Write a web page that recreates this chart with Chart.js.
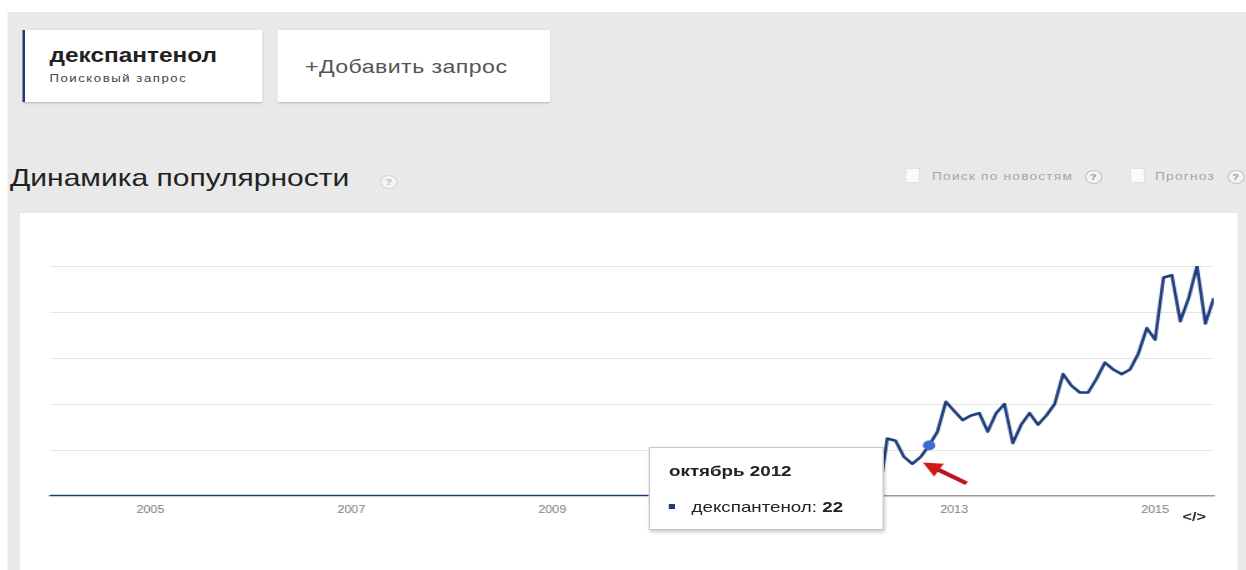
<!DOCTYPE html>
<html lang="ru">
<head>
<meta charset="utf-8">
<script src="https://cdn.jsdelivr.net/npm/chart.js@4.4.1/dist/chart.umd.min.js"></script>
<style>
html, body { margin: 0; padding: 0; background: #fff; overflow: hidden; }
body { width: 1246px; height: 570px; font-family: "Liberation Sans", Arial, sans-serif; }
/* the reference screenshot is stretched sideways, so the page is laid out narrow and widened */
#page { position: absolute; left: 0; top: 0; width: 997px; height: 570px; transform: scaleX(1.25); transform-origin: 0 0; }
#bg { position: absolute; left: 6.4px; top: 12px; right: 0; bottom: 0; background: #e9e9e9; }
.tab { position: absolute; top: 30px; height: 72px; background: #fff; box-shadow: 0 1px 2px rgba(0,0,0,.25); }
#tab1 { left: 17.6px; width: 192px; border-left: 2.4px solid #1d3a6c; box-sizing: border-box; }
#tab2 { left: 221.6px; width: 218.4px; }
.abs { position: absolute; white-space: nowrap; }
.help { position: absolute; width: 12px; height: 12px; border: 1px solid #c4c4c4; border-radius: 50%; background: #f4f4f4;
        font: bold 9px/12px "Liberation Sans", Arial, sans-serif; color: #999; text-align: center; }
.cb { position: absolute; top: 168px; width: 12px; height: 15px; background: #fbfbfb; box-sizing: border-box; border: 1px solid #e2e2e2; }
.opt { position: absolute; top: 169px; font: 11px/14px "Liberation Sans", Arial, sans-serif; color: #a6a6a6; letter-spacing: 0.95px; white-space: nowrap; }
#panel { position: absolute; left: 16px; top: 213px; width: 974px; height: 357px; background: #fff; }
#chart { position: absolute; left: 0; top: 0; }
#tip { position: absolute; display: none; width: 188px; height: 83px; box-sizing: border-box; background: #fff;
       border: 1px solid #c6c6c6; box-shadow: 1px 2px 3px rgba(0,0,0,.22); }
#tipTitle { position: absolute; left: 15px; top: 14px; font: bold 15px/18px "Liberation Sans", Arial, sans-serif; color: #222; white-space: nowrap; }
#tipRow { position: absolute; left: 15px; top: 50px; font: 15px/18px "Liberation Sans", Arial, sans-serif; color: #222; white-space: nowrap; }
#tipSwatch { display: inline-block; width: 5px; height: 5px; margin-right: 13px; vertical-align: 3px; }
</style>
</head>
<body>
<div id="page">
  <div id="bg"></div>

  <div class="tab" id="tab1">
    <div class="abs" style="left:20px; top:14px; font:bold 19.5px/22px 'Liberation Sans', Arial, sans-serif; color:#222;">декспантенол</div>
    <div class="abs" style="left:20px; top:42px; font:10.5px/13px 'Liberation Sans', Arial, sans-serif; color:#444; letter-spacing:1.25px;">Поисковый запрос</div>
  </div>
  <div class="tab" id="tab2">
    <div class="abs" style="left:22.4px; top:26px; font:18.5px/22px 'Liberation Sans', Arial, sans-serif; color:#555; letter-spacing:0.35px;">+Добавить запрос</div>
  </div>

  <div class="abs" style="left:8px; top:164px; font:24px/28px 'Liberation Sans', Arial, sans-serif; color:#222;">Динамика популярности</div>
  <div class="help" style="left:304px; top:175px; color:#bbb; border-color:#d6d6d6;">?</div>

  <div class="cb" style="left:724px;"></div>
  <div class="opt" style="left:745.6px;">Поиск по новостям</div>
  <div class="help" style="left:867.5px; top:169.5px;">?</div>
  <div class="cb" style="left:904px;"></div>
  <div class="opt" style="left:924px;">Прогноз</div>
  <div class="help" style="left:981.5px; top:169.5px;">?</div>

  <div id="panel">
    <canvas id="chart" width="974" height="357"></canvas>
    <div id="tip">
      <div id="tipTitle"></div>
      <div id="tipRow"><span id="tipSwatch"></span><span id="tipName"></span>: <b id="tipValue"></b></div>
    </div>
    <div class="abs" style="left:930px; top:296px; font:bold 13px/16px 'Liberation Sans', Arial, sans-serif; color:#333;">&lt;/&gt;</div>
  </div>
</div>

<script>
// ---------- data ----------
const seriesName = "декспантенол";
const periods = [
  "2004-01", "2012-04",
  "2012-05", "2012-06", "2012-07", "2012-08", "2012-09", "2012-10", "2012-11", "2012-12",
  "2013-01", "2013-02", "2013-03", "2013-04", "2013-05", "2013-06",
  "2013-07", "2013-08", "2013-09", "2013-10", "2013-11", "2013-12",
  "2014-01", "2014-02", "2014-03", "2014-04", "2014-05", "2014-06",
  "2014-07", "2014-08", "2014-09", "2014-10", "2014-11", "2014-12",
  "2015-01", "2015-02", "2015-03", "2015-04", "2015-05", "2015-06", "2015-07", "2015-08"
];
const values = [
  0, 0,
  25, 24, 17, 14, 17, 22, 28, 41,
  37, 33, 35, 36, 28, 36,
  40, 23, 31, 36, 31, 35,
  40, 53, 48, 45, 45, 51,
  58, 55, 53, 55, 62, 73,
  68, 95, 96, 76, 86, 100, 75, 86
];
const tickYears = [2005, 2007, 2009, 2011, 2013, 2015];
const monthNames = ["январь", "февраль", "март", "апрель", "май", "июнь",
                    "июль", "август", "сентябрь", "октябрь", "ноябрь", "декабрь"];
const markedPeriod = "2012-10";

const firstYear = 2004;
const lineColor = "#1e3d7d";
const dotColor = "#3a6bcc";

function monthIndex(p) {
  const parts = p.split("-");
  return (parseInt(parts[0]) - firstYear) * 12 + parseInt(parts[1]) - 1;
}

const points = periods.map(function(p, i) { return { x: monthIndex(p), y: values[i] }; });
const markIndex = periods.indexOf(markedPeriod);

// ---------- red arrow pointing at the marked month ----------
const arrowPlugin = {
  id: "arrow",
  afterDatasetsDraw(chart) {
    const pt = chart.getDatasetMeta(0).data[markIndex];
    const ctx = chart.ctx;
    const tipX = pt.x - 5, tipY = pt.y + 17;
    const tailX = pt.x + 30, tailY = pt.y + 38;
    const ang = Math.atan2(tipY - tailY, tipX - tailX);
    const headLen = 15, headW = 7.5;
    const bx = tipX - Math.cos(ang) * headLen, by = tipY - Math.sin(ang) * headLen;
    ctx.save();
    ctx.strokeStyle = "#b8161c";
    ctx.lineWidth = 4;
    ctx.lineCap = "butt";
    ctx.beginPath();
    ctx.moveTo(tailX, tailY);
    ctx.lineTo(bx + Math.cos(ang) * 2, by + Math.sin(ang) * 2);
    ctx.stroke();
    ctx.fillStyle = "#d01a1a";
    ctx.beginPath();
    ctx.moveTo(tipX, tipY);
    ctx.lineTo(bx - Math.sin(ang) * headW, by + Math.cos(ang) * headW);
    ctx.lineTo(bx + Math.sin(ang) * headW, by - Math.cos(ang) * headW);
    ctx.closePath();
    ctx.fill();
    ctx.restore();
  }
};

// ---------- html tooltip ----------
function externalTooltip(context) {
  const tip = context.tooltip;
  const box = document.getElementById("tip");
  if (tip.opacity === 0 || !tip.dataPoints || !tip.dataPoints.length) {
    box.style.display = "none";
    return;
  }
  const dp = tip.dataPoints[0];
  const parts = periods[dp.dataIndex].split("-");
  document.getElementById("tipTitle").textContent = monthNames[parseInt(parts[1]) - 1] + " " + parts[0];
  document.getElementById("tipName").textContent = seriesName;
  document.getElementById("tipValue").textContent = values[dp.dataIndex];
  document.getElementById("tipSwatch").style.background = lineColor;
  box.style.display = "block";
  box.style.left = (tip.caretX - 36 - 188) + "px";
  box.style.top = (tip.caretY + 2) + "px";
}

// ---------- chart ----------
const ctx = document.getElementById("chart").getContext("2d");
const chart = new Chart(ctx, {
  type: "line",
  data: {
    datasets: [{
      label: seriesName,
      data: points,
      borderColor: lineColor,
      borderWidth: 2.6,
      borderJoinStyle: "round",
      tension: 0,
      pointRadius: 0,
      pointHoverRadius: 4.5,
      pointHoverBackgroundColor: dotColor,
      pointHoverBorderColor: dotColor,
      pointHoverBorderWidth: 1
    }]
  },
  options: {
    responsive: false,
    animation: false,
    events: [],
    layout: { padding: { left: 24, right: 19, top: 53, bottom: 46 } },
    plugins: {
      legend: { display: false },
      tooltip: { enabled: false, external: externalTooltip }
    },
    scales: {
      x: {
        type: "linear",
        min: 0,
        max: monthIndex(periods[periods.length - 1]),
        grid: { display: false, drawTicks: false },
        border: { display: true, color: "#9a9a9a", width: 1.5 },
        afterBuildTicks: function(axis) {
          axis.ticks = tickYears.map(function(y) { return { value: (y - firstYear) * 12 }; });
        },
        ticks: {
          padding: 8,
          color: "#777",
          font: { family: "'Liberation Sans', Arial, sans-serif", size: 10 },
          maxRotation: 0,
          autoSkip: false,
          callback: function(v) { return String(firstYear + v / 12); }
        }
      },
      y: {
        min: 0,
        max: 100,
        ticks: { display: false, stepSize: 20 },
        border: { display: false },
        grid: {
          drawTicks: false,
          color: function(c) { return c.tick.value === 0 ? "rgba(0,0,0,0)" : "#e6e6e6"; }
        }
      }
    }
  },
  plugins: [arrowPlugin]
});

const active = [{ datasetIndex: 0, index: markIndex }];
chart.setActiveElements(active);
chart.tooltip.setActiveElements(active, { x: 0, y: 0 });
chart.update();
</script>
</body>
</html>
